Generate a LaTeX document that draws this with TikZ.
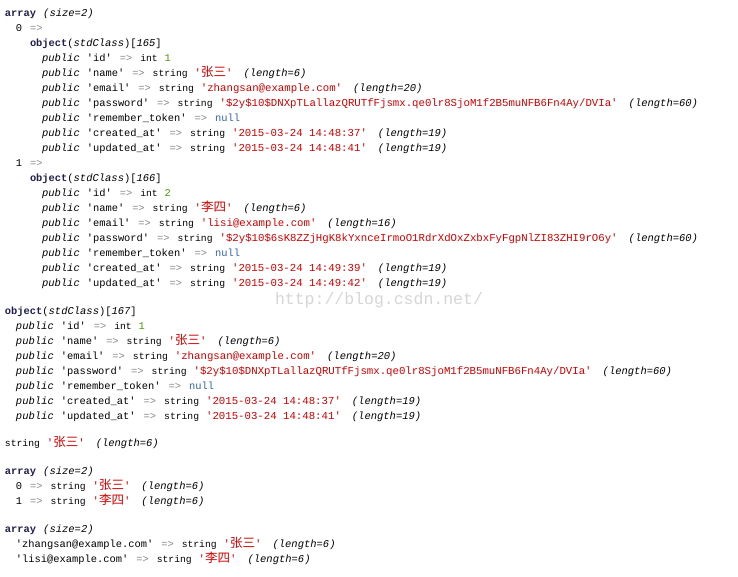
\documentclass[tikz,border=0pt]{standalone}
\usepackage{fontspec}
\newfontfamily\mono{Liberation Mono}
\newfontfamily\cjk{Noto Sans CJK SC}
\definecolor{arrg}{HTML}{888A85}
\definecolor{intg}{HTML}{4E9A06}
\definecolor{strred}{HTML}{CC0000}
\definecolor{nullb}{HTML}{3465A4}
\definecolor{navyb}{HTML}{202050}
\definecolor{wmark}{HTML}{D6D6D6}
\newcommand\gp{\hspace{7pt}}
\newcommand\kw[1]{{\fontsize{10.4}{12}\mono #1}}
\newcommand\ty[1]{{\fontsize{9.7}{12}\mono #1}}
\newcommand\itx[1]{{\fontsize{10.5}{12}\mono\itshape #1}}
\newcommand\bo[1]{{\color{navyb}\fontsize{10.4}{12}\mono\bfseries #1}}
\newcommand\arr{\hspace{1pt}{\color{arrg}\fontsize{10.4}{12}\mono =>}\hspace{1pt}}
\newcommand\sv[1]{{\color{strred}\fontsize{10.7}{12}\mono '#1'}}
\newcommand\cn[1]{{\fontsize{12.5}{12}\cjk #1}}
\newcommand\lenx[1]{\hspace{11pt}\itx{(length=#1)}}
\newcommand\strv[2]{\ty{string}\gp\sv{#1}\lenx{#2}}
\newcommand\intv[1]{\ty{int}\gp{\color{intg}\kw{#1}}}
\newcommand\nullv{{\color{nullb}\kw{null}}}
\newcommand\pub[2]{\itx{public}\gp\kw{'#1'}\gp\arr\gp#2}
\newcommand\objh[1]{\bo{object}\kw{(}\itx{stdClass}\kw{)[}\itx{#1}\kw{]}}
\newcommand\arrh{\bo{array}\gp\itx{(size=2)}}
\newcommand\pwa{\$2y\$10\$DNXpTLallazQRUTfFjsmx.qe0lr8SjoM1f2B5muNFB6Fn4Ay/DVIa}
\newcommand\pwb{\$2y\$10\$6sK8ZZjHgK8kYxnceIrmoO1RdrXdOxZxbxFyFgpNlZI83ZHI9rO6y}
\tikzset{ln/.style={anchor=base west, inner sep=0pt, outer sep=0pt}}
\begin{document}
\begin{tikzpicture}[x=1pt,y=1pt]
\fill[white] (0,0) rectangle (738,-576);
\useasboundingbox (0,0) rectangle (738,-576);
% watermark
\node[ln, text=wmark] (wm) at (275,-304) {\fontsize{16.5}{20}\mono http://blog.csdn.net/};
% first array
\node[ln] (a1) at (5,-16) {\arrh};
\node[ln] (a1k0) at (16,-31) {\kw{0}\gp\arr};
\node[ln] (o165) at (30,-46) {\objh{165}};
\node[ln] (o165id) at (42,-61) {\pub{id}{\intv{1}}};
\node[ln] (o165nm) at (42,-76) {\pub{name}{\strv{\cn{张三}}{6}}};
\node[ln] (o165em) at (42,-91) {\pub{email}{\strv{zhangsan@example.com}{20}}};
\node[ln] (o165pw) at (42,-106) {\pub{password}{\strv{\pwa}{60}}};
\node[ln] (o165rt) at (42,-121) {\pub{remember\_token}{\nullv}};
\node[ln] (o165ca) at (42,-136) {\pub{created\_at}{\strv{2015-03-24 14:48:37}{19}}};
\node[ln] (o165ua) at (42,-151) {\pub{updated\_at}{\strv{2015-03-24 14:48:41}{19}}};
\node[ln] (a1k1) at (16,-166) {\kw{1}\gp\arr};
\node[ln] (o166) at (30,-181) {\objh{166}};
\node[ln] (o166id) at (42,-196) {\pub{id}{\intv{2}}};
\node[ln] (o166nm) at (42,-211) {\pub{name}{\strv{\cn{李四}}{6}}};
\node[ln] (o166em) at (42,-226) {\pub{email}{\strv{lisi@example.com}{16}}};
\node[ln] (o166pw) at (42,-241) {\pub{password}{\strv{\pwb}{60}}};
\node[ln] (o166rt) at (42,-256) {\pub{remember\_token}{\nullv}};
\node[ln] (o166ca) at (42,-271) {\pub{created\_at}{\strv{2015-03-24 14:49:39}{19}}};
\node[ln] (o166ua) at (42,-286) {\pub{updated\_at}{\strv{2015-03-24 14:49:42}{19}}};
% object 167
\node[ln] (o167) at (5,-314) {\objh{167}};
\node[ln] (o167id) at (16,-329) {\pub{id}{\intv{1}}};
\node[ln] (o167nm) at (16,-344) {\pub{name}{\strv{\cn{张三}}{6}}};
\node[ln] (o167em) at (16,-359) {\pub{email}{\strv{zhangsan@example.com}{20}}};
\node[ln] (o167pw) at (16,-374) {\pub{password}{\strv{\pwa}{60}}};
\node[ln] (o167rt) at (16,-389) {\pub{remember\_token}{\nullv}};
\node[ln] (o167ca) at (16,-404) {\pub{created\_at}{\strv{2015-03-24 14:48:37}{19}}};
\node[ln] (o167ua) at (16,-419) {\pub{updated\_at}{\strv{2015-03-24 14:48:41}{19}}};
% single string
\node[ln] (s1) at (5,-446) {\strv{\cn{张三}}{6}};
% second array
\node[ln] (a2) at (5,-474) {\arrh};
\node[ln] (a2k0) at (16,-489) {\kw{0}\gp\arr\gp\strv{\cn{张三}}{6}};
\node[ln] (a2k1) at (16,-504) {\kw{1}\gp\arr\gp\strv{\cn{李四}}{6}};
% third array
\node[ln] (a3) at (5,-532) {\arrh};
\node[ln] (a3k0) at (16,-547) {\kw{'zhangsan@example.com'}\gp\arr\gp\strv{\cn{张三}}{6}};
\node[ln] (a3k1) at (16,-562) {\kw{'lisi@example.com'}\gp\arr\gp\strv{\cn{李四}}{6}};
\end{tikzpicture}
\end{document}
